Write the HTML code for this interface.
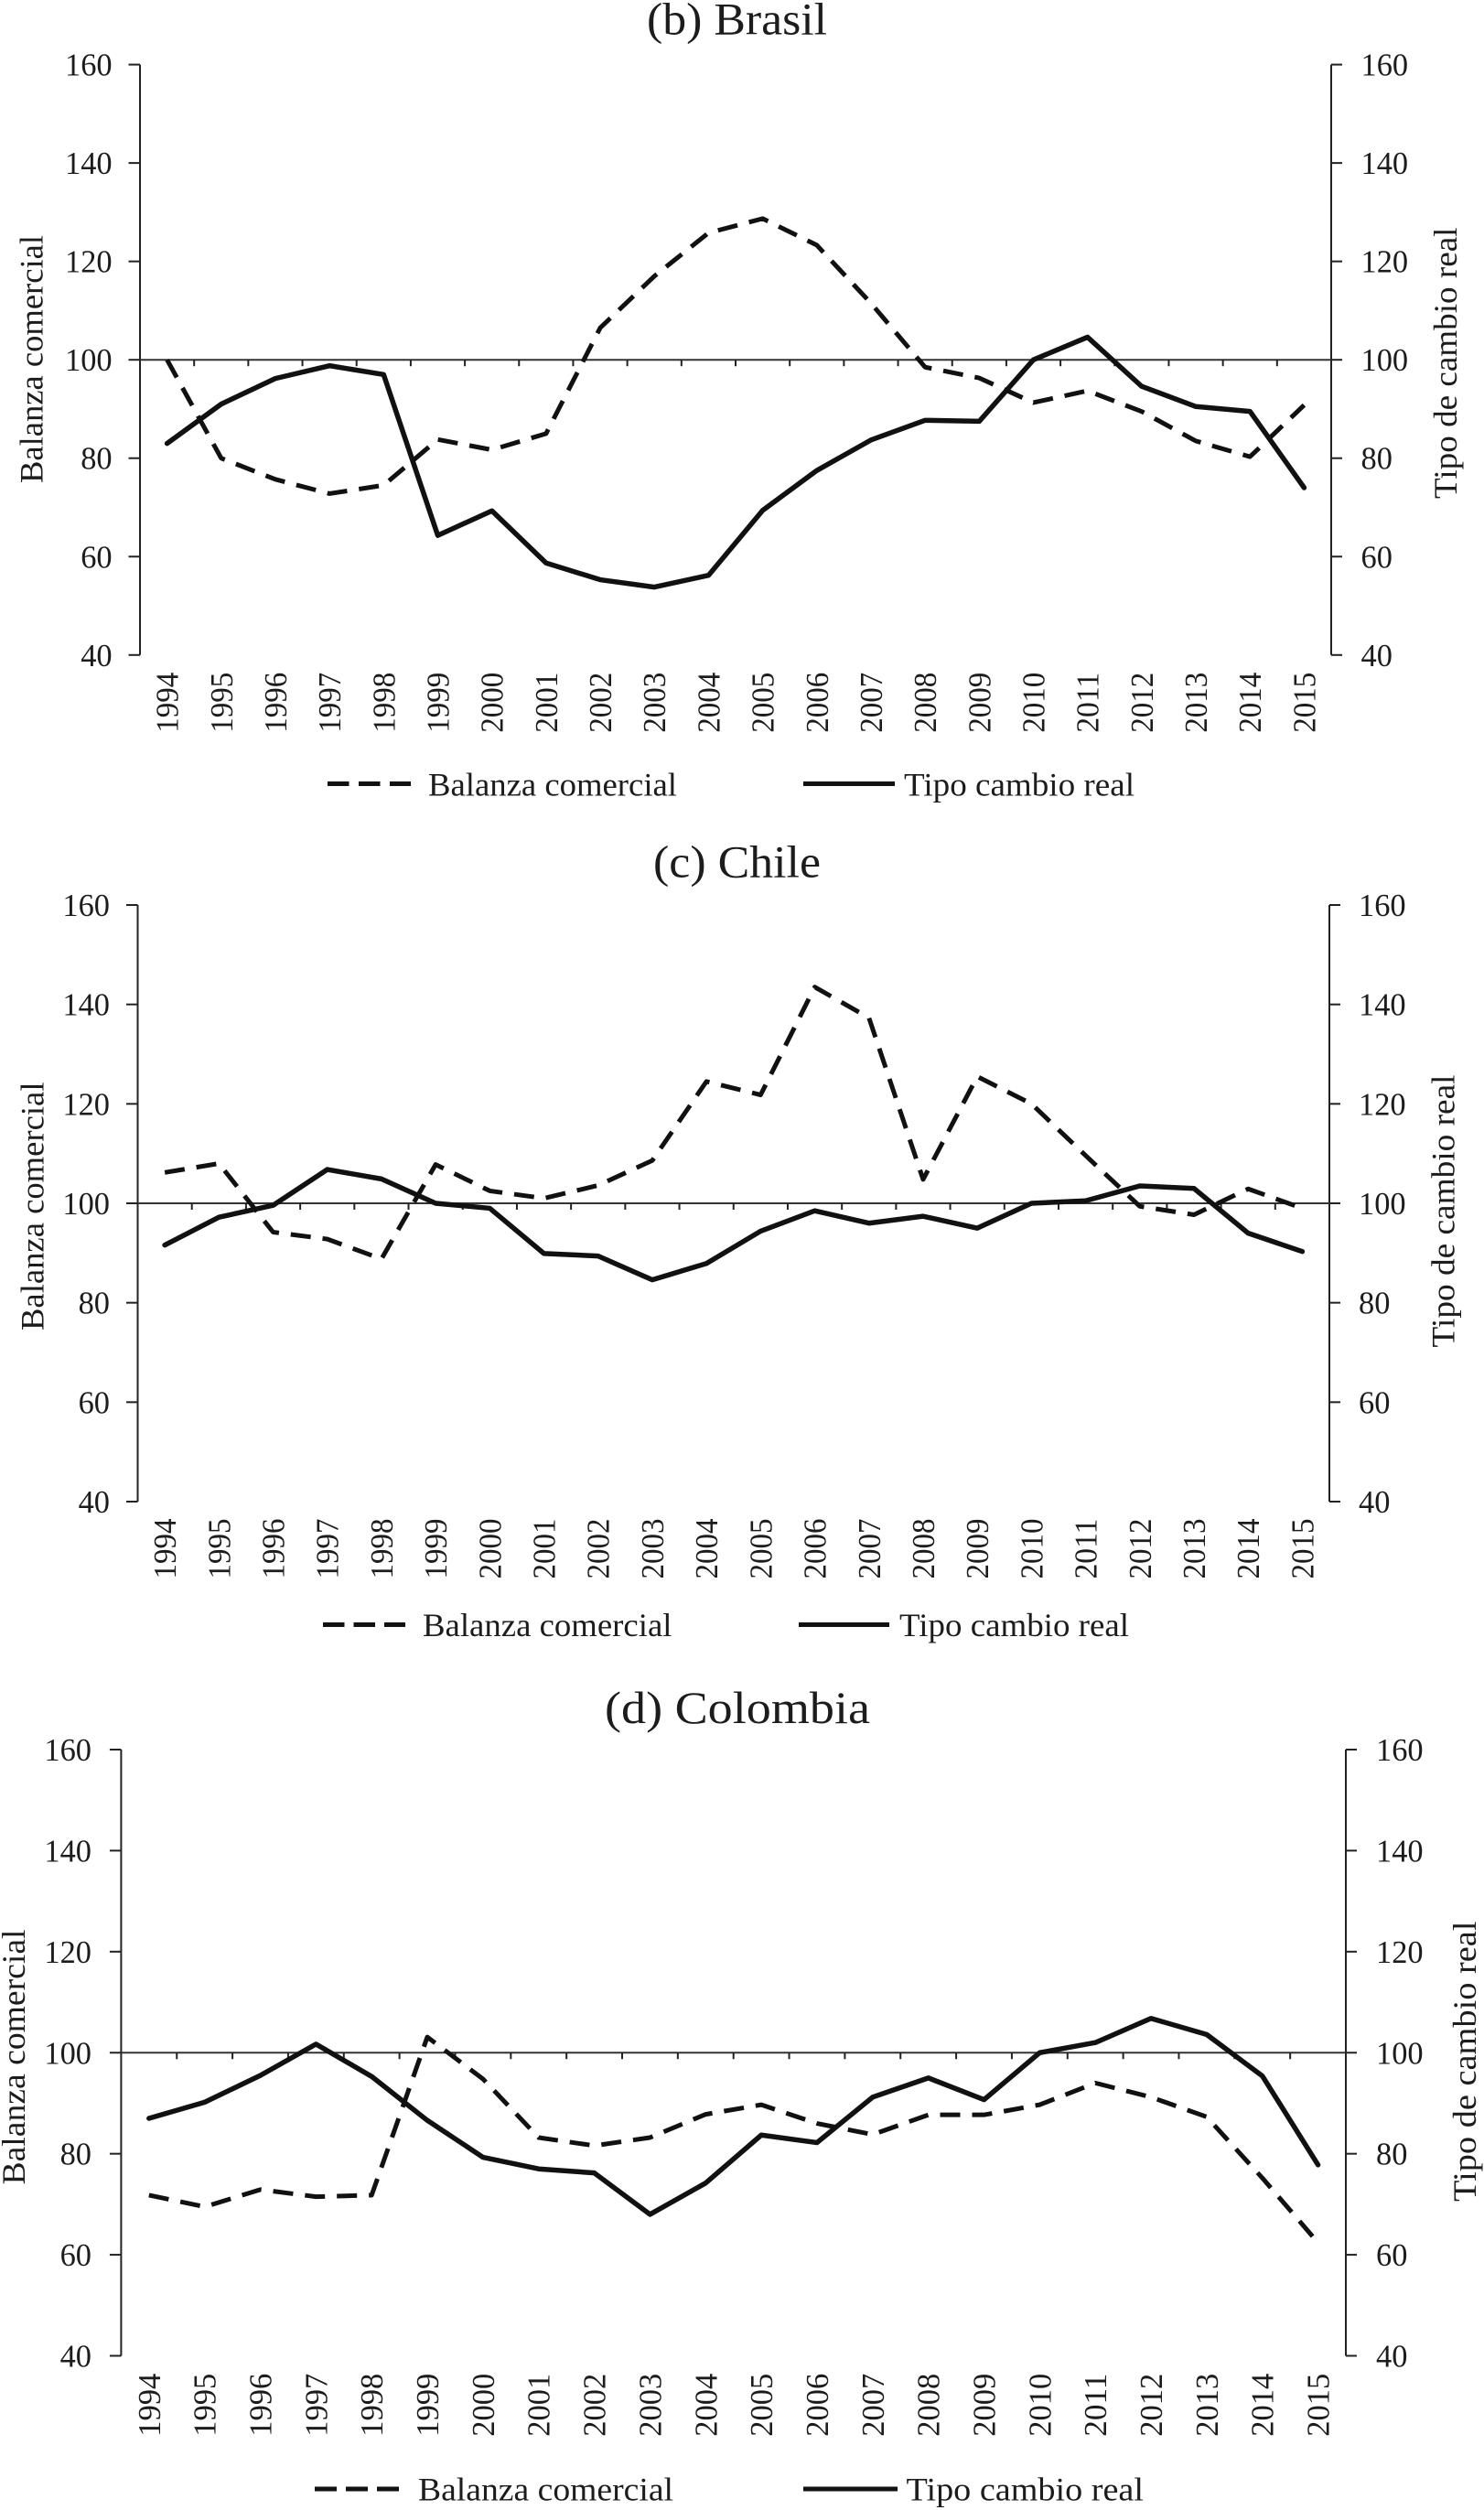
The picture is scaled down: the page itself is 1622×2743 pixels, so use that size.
<!DOCTYPE html>
<html lang="es">
<head>
<meta charset="utf-8">
<title>Balanza comercial y tipo de cambio real</title>
<style>
html,body{margin:0;padding:0;background:#fff;}
body{width:1622px;height:2743px;overflow:hidden;}
svg{display:block;}
text{font-family:"Liberation Serif",serif;fill:#1c1c1c;}
.title{font-size:50px;}
.axis-title{font-size:36px;}
.legend-text{font-size:36px;}
.tick{font-size:35px;}
</style>
</head>
<body>
<svg id="chart" xmlns="http://www.w3.org/2000/svg" width="1622" height="2743" viewBox="0 0 1622 2743">
  <rect x="0" y="0" width="1622" height="2743" fill="#ffffff"/>

  <g id="panel-brasil">
    <text class="title" x="707" y="37.5" textLength="197" lengthAdjust="spacingAndGlyphs">(b) Brasil</text>
    <text class="axis-title" transform="translate(46.5,528) rotate(-90)" textLength="271" lengthAdjust="spacingAndGlyphs">Balanza comercial</text>
    <text class="axis-title" transform="translate(1592,545) rotate(-90)" textLength="296.5" lengthAdjust="spacingAndGlyphs">Tipo de cambio real</text>
    <line x1="358" y1="856.5" x2="449" y2="856.5" stroke="#111" stroke-width="5" stroke-dasharray="23.5 10.5"/>
    <text class="legend-text" x="468" y="869.5" textLength="272" lengthAdjust="spacingAndGlyphs">Balanza comercial</text>
    <line x1="878" y1="856.5" x2="978" y2="856.5" stroke="#111" stroke-width="5"/>
    <text class="legend-text" x="988" y="869.5" textLength="252" lengthAdjust="spacingAndGlyphs">Tipo cambio real</text>
  </g>

  <g id="panel-chile">
    <text class="title" x="714" y="958.5" textLength="183" lengthAdjust="spacingAndGlyphs">(c) Chile</text>
    <text class="axis-title" transform="translate(47.5,1454) rotate(-90)" textLength="271.5" lengthAdjust="spacingAndGlyphs">Balanza comercial</text>
    <text class="axis-title" transform="translate(1589.5,1472.5) rotate(-90)" textLength="298" lengthAdjust="spacingAndGlyphs">Tipo de cambio real</text>
    <line x1="353" y1="1775.5" x2="443" y2="1775.5" stroke="#111" stroke-width="5" stroke-dasharray="23.5 10"/>
    <text class="legend-text" x="462" y="1788" textLength="272.5" lengthAdjust="spacingAndGlyphs">Balanza comercial</text>
    <line x1="873" y1="1775.5" x2="972" y2="1775.5" stroke="#111" stroke-width="5"/>
    <text class="legend-text" x="983" y="1788" textLength="251" lengthAdjust="spacingAndGlyphs">Tipo cambio real</text>
  </g>

  <g id="panel-colombia">
    <text class="title" x="661" y="1883" textLength="290" lengthAdjust="spacingAndGlyphs">(d) Colombia</text>
    <text class="axis-title" transform="translate(27,2387.5) rotate(-90)" textLength="279" lengthAdjust="spacingAndGlyphs">Balanza comercial</text>
    <text class="axis-title" transform="translate(1613,2406) rotate(-90)" textLength="306.5" lengthAdjust="spacingAndGlyphs">Tipo de cambio real</text>
    <line x1="344" y1="2720" x2="436" y2="2720" stroke="#111" stroke-width="5" stroke-dasharray="24 10"/>
    <text class="legend-text" x="457" y="2732.5" textLength="279" lengthAdjust="spacingAndGlyphs">Balanza comercial</text>
    <line x1="878" y1="2720" x2="981" y2="2720" stroke="#111" stroke-width="5"/>
    <text class="legend-text" x="990.5" y="2732.5" textLength="259.5" lengthAdjust="spacingAndGlyphs">Tipo cambio real</text>
  </g>
</svg>

<script>
var years = ['1994','1995','1996','1997','1998','1999','2000','2001','2002','2003','2004','2005','2006','2007','2008','2009','2010','2011','2012','2013','2014','2015'];
var valueTicks = [40,60,80,100,120,140,160];

var brasilBalanza = [100,80,75.7,72.8,74.5,83.8,81.7,85,106.5,117,125.8,128.7,123.3,111.5,98.5,96.3,91.3,93.7,89.5,83.5,80.3,90.8];
var brasilTipo = [83,91,96.2,98.8,97,64.3,69.3,58.7,55.3,53.8,56.2,69.4,77.5,83.7,87.7,87.5,100,104.6,94.6,90.5,89.5,74];

var chileBalanza = [106.2,108,94.2,92.8,88.8,107.8,102.5,101,103.6,108.6,124.5,121.8,143.5,137.3,104.8,125.5,120,109.6,99.4,97.7,102.9,99];
var chileTipo = [91.6,97.2,99.6,106.8,104.9,100,99,89.9,89.4,84.6,87.9,94.4,98.5,96,97.4,95,100,100.5,103.5,103,94,90.3];

var colombiaBalanza = [71.8,69.5,72.9,71.5,71.8,103.1,94.8,83.2,81.6,83.2,87.8,89.7,86,83.8,87.7,87.7,89.7,94,91.2,87.3,75.2,62.4];
var colombiaTipo = [87,90.2,95.5,101.7,95.3,86.6,79.3,77,76.2,68,74.2,83.7,82.2,91.2,95,90.7,100,102,106.8,103.6,95.4,77.8];

var NS = 'http://www.w3.org/2000/svg';

function make(tag, attrs, parent) {
  var el = document.createElementNS(NS, tag);
  for (var k in attrs) { el.setAttribute(k, attrs[k]); }
  parent.appendChild(el);
  return el;
}

function drawPanel(cfg) {
  var g = document.getElementById(cfg.id);
  function xBand(i) { return cfg.left + (cfg.right - cfg.left) * i / years.length; }
  function xCenter(i) { return xBand(i + 0.5); }
  function yScale(v) { return cfg.bottom + (cfg.top - cfg.bottom) * (v - 40) / 120; }
  var axisStyle = {stroke: '#222', 'stroke-width': 2, fill: 'none'};

  function line(x1, y1, x2, y2, width, color) {
    return make('line', {x1: x1, y1: y1, x2: x2, y2: y2, stroke: color || axisStyle.stroke, 'stroke-width': width || axisStyle['stroke-width']}, g);
  }

  var leftAxis = line(cfg.left, cfg.top, cfg.left, cfg.bottom);
  
  
  var rightAxis = line(cfg.right, cfg.top, cfg.right, cfg.bottom);
  
  
  var baseline = line(cfg.left, yScale(100), cfg.right, yScale(100), 2, '#333');
  
  

  valueTicks.forEach(function (v) {
    var y = yScale(v);
    var lt = line(cfg.left - 12.5, y, cfg.left, y);
    
    
    var rt = line(cfg.right, y, cfg.right + 12, y);
    
    

    var ll = make('text', {'class': 'tick', x: cfg.leftLabel, y: y + 12, 'text-anchor': 'end', textLength: String(v).length * 17.2, lengthAdjust: 'spacingAndGlyphs'}, g);
    ll.textContent = v;
    
    
    var rl = make('text', {'class': 'tick', x: cfg.rightLabel, y: y + 12, textLength: String(v).length * 17.2, lengthAdjust: 'spacingAndGlyphs'}, g);
    rl.textContent = v;
    
    
  });

  years.forEach(function (yr, i) {
    if (i > 0) {
      var xt = line(xBand(i), yScale(100), xBand(i), yScale(100) + 7);
      
      
    }
    var lbl = make('text', {'class': 'tick', 'text-anchor': 'end', transform: 'translate(' + (xCenter(i) + 12) + ',' + cfg.yearTop + ') rotate(-90)', textLength: cfg.yearLen, lengthAdjust: 'spacingAndGlyphs'}, g);
    lbl.textContent = yr;
    
    
  });

  function pathFor(values) {
    return values.map(function (v, i) { return (i ? 'L' : 'M') + xCenter(i).toFixed(2) + ' ' + yScale(v).toFixed(2); }).join(' ');
  }

  var dashed = make('path', {d: pathFor(cfg.balanza), fill: 'none', stroke: '#111', 'stroke-width': 5, 'stroke-dasharray': '22 13', 'stroke-linejoin': 'round'}, g);
  
  
  var solid = make('path', {d: pathFor(cfg.tipo), fill: 'none', stroke: '#111', 'stroke-width': 5.5, 'stroke-linejoin': 'round', 'stroke-linecap': 'round'}, g);
  
  
}

drawPanel({id: 'panel-brasil', name: 'brasil', left: 153, right: 1455, top: 70.6, bottom: 715.8, leftLabel: 122.6, rightLabel: 1487.5, yearTop: 734.8, yearLen: 66, balanza: brasilBalanza, tipo: brasilTipo});
drawPanel({id: 'panel-chile', name: 'chile', left: 150.5, right: 1453, top: 989, bottom: 1641, leftLabel: 120, rightLabel: 1485, yearTop: 1659.5, yearLen: 66, balanza: chileBalanza, tipo: chileTipo});
drawPanel({id: 'panel-colombia', name: 'colombia', left: 132.4, right: 1471, top: 1912, bottom: 2574.5, leftLabel: 100, rightLabel: 1504, yearTop: 2593.7, yearLen: 69, balanza: colombiaBalanza, tipo: colombiaTipo});
</script>
</body>
</html>
